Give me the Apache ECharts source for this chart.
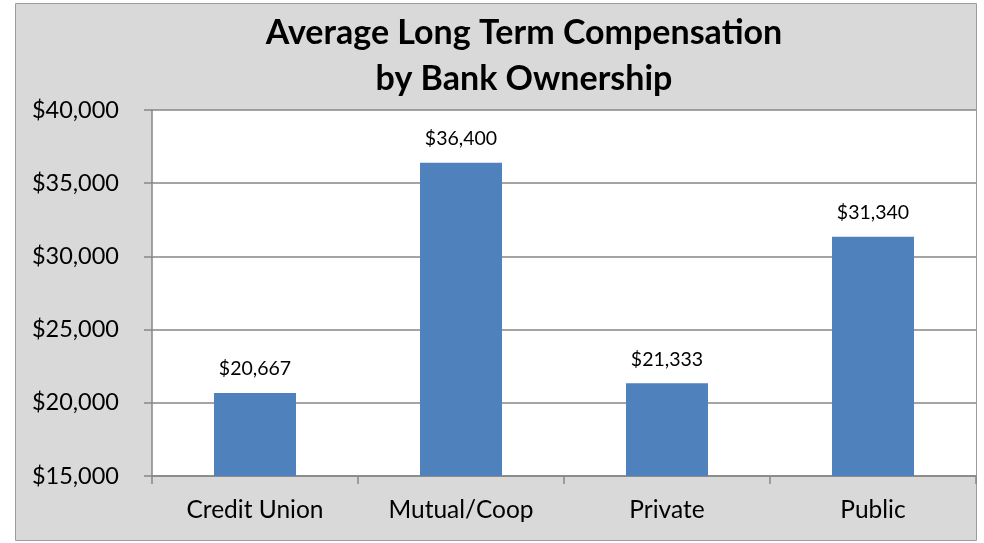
<!DOCTYPE html>
<html>
<head>
<meta charset="utf-8">
<script src="https://cdn.jsdelivr.net/npm/echarts@6/dist/echarts.min.js"></script>
<style>
  html, body { margin: 0; padding: 0; background: #ffffff; }
  #chart { width: 984px; height: 543px; }
</style>
</head>
<body>
<div id="chart"></div>
<script>
// Average long term compensation, by ownership type
const categories = ['Credit Union', 'Mutual/Coop', 'Private', 'Public'];
const compensation = [20667, 36400, 21333, 31340];
const titleLines = ['Average Long Term Compensation', 'by Bank Ownership'];

const FONT = 'Lato, "Open Sans", sans-serif';

function money(v) {
  return '$' + Math.round(v).toString().replace(/\B(?=(\d{3})+(?!\d))/g, ',');
}

const chart = echarts.init(document.getElementById('chart'), null, { renderer: 'canvas' });

chart.setOption({
  animation: false,
  backgroundColor: '#ffffff',
  graphic: [
    {
      type: 'rect',
      z: -10,
      silent: true,
      shape: { x: 15.5, y: 3.5, width: 961, height: 537 },
      style: { fill: '#d9d9d9', stroke: '#9c9c9c', lineWidth: 1 }
    },
    {
      type: 'text',
      x: 524,
      y: 56,
      silent: true,
      style: {
        text: titleLines.join('\n'),
        font: 'bold 34px ' + FONT,
        fill: '#000000',
        textAlign: 'center',
        textVerticalAlign: 'middle',
        lineHeight: 46
      },
      z: 10
    }
  ],
  grid: {
    show: true,
    left: 152,
    right: 8,
    top: 110,
    bottom: 67,
    backgroundColor: '#ffffff',
    borderWidth: 0,
    containLabel: false
  },
  xAxis: {
    type: 'category',
    data: categories,
    axisLine: { show: true, lineStyle: { color: '#868686', width: 1.5 } },
    axisTick: { show: true, length: 8, alignWithLabel: false, lineStyle: { color: '#868686', width: 1.5 } },
    axisLabel: {
      color: '#000000',
      fontFamily: FONT,
      fontSize: 24.5,
      margin: 22
    },
    splitLine: { show: false }
  },
  yAxis: {
    type: 'value',
    min: 15000,
    max: 40000,
    interval: 5000,
    axisLine: { show: true, lineStyle: { color: '#868686', width: 1.5 } },
    axisTick: { show: true, length: 8, lineStyle: { color: '#868686', width: 1.5 } },
    axisLabel: {
      color: '#000000',
      fontFamily: FONT,
      fontSize: 23.5,
      margin: 33,
      formatter: money
    },
    splitLine: { show: true, lineStyle: { color: '#868686', width: 1.5 } }
  },
  series: [
    {
      type: 'bar',
      data: compensation,
      barWidth: 82,
      itemStyle: { color: '#4f81bd' },
      label: {
        show: true,
        position: 'top',
        distance: 14,
        color: '#000000',
        fontFamily: FONT,
        fontSize: 19.5,
        formatter: p => money(p.value)
      }
    }
  ]
});
</script>
</body>
</html>
